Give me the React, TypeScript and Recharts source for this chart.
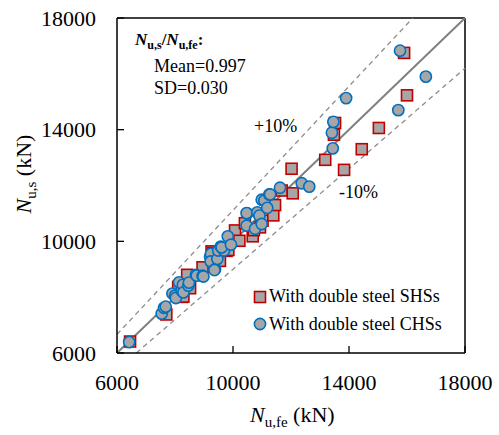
import React from "react";
import {
  ScatterChart,
  Scatter,
  XAxis,
  YAxis,
  ReferenceLine,
  Customized,
} from "recharts";

// N_u,fe (FE) vs N_u,s (simplified), kN
const shsFe = [6450, 7650, 7700, 8230, 8290, 8110, 8520, 8480, 8420, 8950, 9260, 9320, 9550, 9780, 9840, 10070, 10220, 10410, 10680, 10720, 10930, 11020, 11390, 11450, 11680, 12060, 12020, 13180, 13480, 13520, 13830, 14440, 15030, 16000, 15900];
const shsS = [6410, 7480, 7380, 8010, 8020, 8370, 8320, 8780, 8800, 9070, 9640, 9580, 9300, 9660, 9690, 10390, 10020, 10650, 10180, 10400, 10500, 10740, 10930, 11300, 11820, 11720, 12600, 12920, 13820, 14240, 12560, 13300, 14060, 15230, 16750];

const chsFe = [6420, 7540, 7620, 7680, 7910, 8000, 8030, 8140, 8230, 8270, 8290, 8460, 8480, 8720, 8750, 8950, 8980, 9210, 9240, 9230, 9380, 9460, 9360, 9490, 9580, 9690, 9610, 9820, 9930, 10470, 10490, 10470, 10760, 10840, 10910, 10990, 10990, 11080, 11180, 11250, 11280, 11620, 12370, 12630, 13440, 13410, 13460, 13900, 15700, 15760, 16650];
const chsS = [6390, 7410, 7620, 7660, 8130, 8050, 7970, 8530, 8230, 8440, 8170, 8410, 8520, 8800, 8770, 8770, 8740, 9450, 9550, 9280, 9000, 9370, 8970, 9670, 9810, 9670, 9780, 10180, 9880, 10560, 11000, 11010, 10450, 11040, 10920, 10620, 11490, 11460, 11200, 11680, 11680, 11920, 12080, 11960, 13330, 13890, 14280, 15130, 14700, 16830, 15900];

const axisTicks = [6000, 10000, 14000, 18000];
const AX_MIN = 6000;
const AX_MAX = 18000;
const BAND = 0.9; // +/-10% lines: y = x/0.9 and y = 0.9x

const FONT = "Liberation Serif, Times New Roman, serif";
const GREY = "#a6a6a6";

const shsData = shsFe.map((x, i) => ({ x, y: shsS[i] }));
const chsData = chsFe.map((x, i) => ({ x, y: chsS[i] }));

const SquareDot = (p: any) => (
  <rect x={p.cx - 5.5} y={p.cy - 5.5} width={11} height={11} fill={GREY} stroke="#c00000" strokeWidth={1.6} />
);
const CircleDot = (p: any) => (
  <circle cx={p.cx} cy={p.cy} r={5.6} fill={GREY} stroke="#0070c0" strokeWidth={1.6} />
);

const XTick = (p: any) => (
  <g>
    <line x1={p.x} y1={p.y} x2={p.x} y2={p.y - 7} stroke="#000" strokeWidth={1.3} />
    <text x={p.x} y={p.y + 29} textAnchor="middle" dominantBaseline="central" style={{ fontFamily: FONT, fontSize: 22 }} fill="#000">
      {p.payload.value}
    </text>
  </g>
);
const YTick = (p: any) => (
  <g>
    <line x1={p.x} y1={p.y} x2={p.x + 7} y2={p.y} stroke="#000" strokeWidth={1.3} />
    <text x={p.x - 21} y={p.y} textAnchor="end" dominantBaseline="central" style={{ fontFamily: FONT, fontSize: 22 }} fill="#000">
      {p.payload.value}
    </text>
  </g>
);

const Annotations = () => (
  <g style={{ fontFamily: FONT }} fill="#000">
    <text x={135} y={45} fontSize={17} fontWeight="bold">
      <tspan fontStyle="italic">N</tspan>
      <tspan fontSize={12} dy={4}>u,s</tspan>
      <tspan dy={-4}>/</tspan>
      <tspan fontStyle="italic">N</tspan>
      <tspan fontSize={12} dy={4}>u,fe</tspan>
      <tspan dy={-4}>:</tspan>
    </text>
    <text x={154} y={72} fontSize={18}>Mean=0.997</text>
    <text x={154} y={94} fontSize={18}>SD=0.030</text>
    <text x={254} y={132} fontSize={18}>+10%</text>
    <text x={339} y={198} fontSize={18}>-10%</text>
    <text x={250} y={422} fontSize={22}>
      <tspan fontStyle="italic">N</tspan>
      <tspan fontSize={15} dy={5}>u,fe</tspan>
      <tspan dy={-5}> (kN)</tspan>
    </text>
    <text x={31} y={174} fontSize={22} textAnchor="middle" transform="rotate(-90 31 174)">
      <tspan fontStyle="italic">N</tspan>
      <tspan fontSize={15} dy={5}>u,s</tspan>
      <tspan dy={-5}> (kN)</tspan>
    </text>
  </g>
);

const LegendBox = () => (
  <div
    style={{
      position: "absolute",
      left: 253,
      top: 283,
      fontFamily: FONT,
      fontSize: 18,
      color: "#000",
      lineHeight: "27.5px",
      whiteSpace: "nowrap",
    }}
  >
    <div style={{ display: "flex", alignItems: "center" }}>
      <svg width={15} height={14} style={{ marginRight: 1 }}>
        <rect x={1.5} y={1.5} width={11} height={11} fill={GREY} stroke="#c00000" strokeWidth={1.6} />
      </svg>
      With double steel SHSs
    </div>
    <div style={{ display: "flex", alignItems: "center" }}>
      <svg width={15} height={14} style={{ marginRight: 1 }}>
        <circle cx={7} cy={7} r={5.6} fill={GREY} stroke="#0070c0" strokeWidth={1.6} />
      </svg>
      With double steel CHSs
    </div>
  </div>
);

export default function App() {
  return (
    <div style={{ position: "absolute", left: 0, top: 0, width: 499, height: 435, background: "#fff" }}>
      <ScatterChart width={499} height={435} margin={{ top: 18, right: 34, bottom: 0, left: 0 }}>
        <XAxis
          type="number"
          dataKey="x"
          domain={[AX_MIN, AX_MAX]}
          ticks={axisTicks}
          allowDataOverflow
          height={82}
          tickSize={0}
          tickMargin={0}
          tickLine={false}
          tick={<XTick />}
          axisLine={{ stroke: "#000", strokeWidth: 1.5 }}
        />
        <YAxis
          type="number"
          dataKey="y"
          domain={[AX_MIN, AX_MAX]}
          ticks={axisTicks}
          allowDataOverflow
          width={117}
          tickSize={0}
          tickMargin={0}
          tickLine={false}
          tick={<YTick />}
          axisLine={{ stroke: "#000", strokeWidth: 1.5 }}
        />
        <ReferenceLine y={AX_MAX} stroke="#000" strokeWidth={1.5} />
        <ReferenceLine x={AX_MAX} stroke="#000" strokeWidth={1.5} />
        <ReferenceLine
          segment={[{ x: AX_MIN, y: AX_MIN / BAND }, { x: AX_MAX * BAND, y: AX_MAX }]}
          stroke="#8c8c8c"
          strokeWidth={1.3}
          strokeDasharray="5 4"
        />
        <ReferenceLine
          segment={[{ x: AX_MIN / BAND, y: AX_MIN }, { x: AX_MAX, y: AX_MAX * BAND }]}
          stroke="#8c8c8c"
          strokeWidth={1.3}
          strokeDasharray="5 4"
        />
        <ReferenceLine
          segment={[{ x: AX_MIN, y: AX_MIN }, { x: AX_MAX, y: AX_MAX }]}
          stroke="#808080"
          strokeWidth={2}
        />
        <Scatter name="With double steel SHSs" data={shsData} shape={SquareDot} isAnimationActive={false} />
        <Scatter name="With double steel CHSs" data={chsData} shape={CircleDot} isAnimationActive={false} />
        <Customized component={Annotations} />
      </ScatterChart>
      <LegendBox />
    </div>
  );
}
